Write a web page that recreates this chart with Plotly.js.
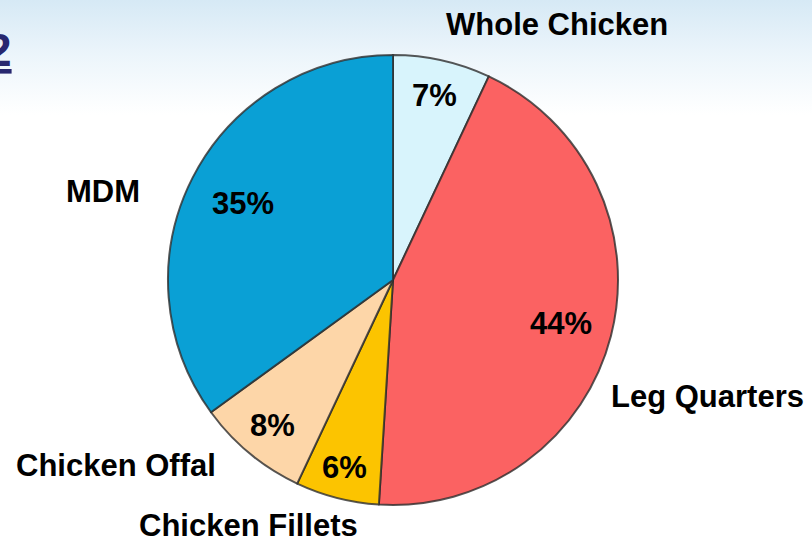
<!DOCTYPE html>
<html>
<head>
<meta charset="utf-8">
<script src="https://cdn.plot.ly/plotly-3.0.1.min.js"></script>
<style>
  html, body { margin: 0; padding: 0; }
  body { width: 812px; height: 544px; background: linear-gradient(to bottom, #d6e9f5 0px, #ecf5fb 55px, #ffffff 115px, #ffffff 544px); }
  #chart { width: 812px; height: 544px; }
</style>
</head>
<body>
<div id="chart"></div>
<script>
const categories = ["Whole Chicken", "Leg Quarters", "Chicken Fillets", "Chicken Offal", "MDM"];
const shares = [7, 44, 6, 8, 35];
const sliceColors = ["#d8f4fc", "#fb6262", "#fcc400", "#fdd6a8", "#0aa0d5"];

// --- layout / styling (not data) ---
const W = 812, H = 544;
const pie = {cx: 393, cy: 280, r: 225};
// pixel anchor positions for the outside category names [x, y, yanchor]
const labelPx = [[557, 25, "middle"], [707, 396, "middle"], [248, 544, "bottom"], [116, 465, "middle"], [103, 191, "middle"]];
// radial fraction at which each percentage is placed
const pctRadius = [0.84, 0.77, 0.86, 0.84, 0.75];
const FONT = "Liberation Sans, Arial, sans-serif";

const annotations = categories.map((c, i) => ({
  text: "<b>" + c + "</b>",
  x: labelPx[i][0] / W, y: 1 - labelPx[i][1] / H, xref: "paper", yref: "paper",
  xanchor: "center", yanchor: labelPx[i][2], borderpad: 0,
  showarrow: false, font: {family: FONT, size: 31, color: "#000"}
}));

// percentage labels at the mid-angle of each slice (clockwise from 12 o'clock)
const total = shares.reduce((a, b) => a + b, 0);
let cum = 0;
shares.forEach((v, i) => {
  const mid = (cum + v / 2) / total * 2 * Math.PI;
  cum += v;
  const px = pie.cx + Math.sin(mid) * pie.r * pctRadius[i];
  const py = pie.cy - Math.cos(mid) * pie.r * pctRadius[i];
  annotations.push({
    text: "<b>" + v + "%</b>", x: px / W, y: 1 - py / H, xref: "paper", yref: "paper",
    xanchor: "center", yanchor: "middle", showarrow: false,
    font: {family: FONT, size: 31, color: "#000"}
  });
});

annotations.push({
  text: "<b><u>2</u></b>", x: 14 / W, y: 1 - 50 / H, xref: "paper", yref: "paper",
  xanchor: "right", yanchor: "middle", showarrow: false,
  font: {family: FONT, size: 46, color: "#27276f"}
});

const trace = {
  type: "pie",
  values: shares,
  labels: categories,
  sort: false,
  direction: "clockwise",
  rotation: 0,
  marker: {colors: sliceColors, line: {color: "rgba(45,45,45,0.8)", width: 2}},
  textinfo: "none",
  hoverinfo: "label+percent",
  domain: {x: [(pie.cx - pie.r) / W, (pie.cx + pie.r) / W], y: [1 - (pie.cy + pie.r) / H, 1 - (pie.cy - pie.r) / H]},
  showlegend: false
};

const layout = {
  width: W, height: H,
  margin: {l: 0, r: 0, t: 0, b: 0},
  paper_bgcolor: "rgba(0,0,0,0)",
  plot_bgcolor: "rgba(0,0,0,0)",
  showlegend: false,
  annotations: annotations
};

Plotly.newPlot("chart", [trace], layout, {displayModeBar: false, staticPlot: true});
</script>
</body>
</html>
